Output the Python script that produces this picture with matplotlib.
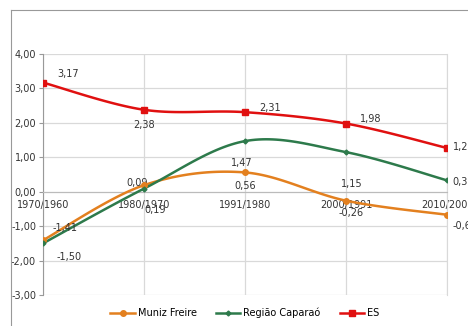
import numpy as np
import matplotlib
matplotlib.use("Agg")
import matplotlib.pyplot as plt
from matplotlib.lines import Line2D

periods = ["1970/1960", "1980/1970", "1991/1980", "2000/1991", "2010/2000"]
muniz_freire = [-1.41, 0.19, 0.56, -0.26, -0.67]
regiao_caparao = [-1.50, 0.09, 1.47, 1.15, 0.33]
es = [3.17, 2.38, 2.31, 1.98, 1.27]


def smooth(xs, ys, n=30):
    # Excel-like smoothed line (Catmull-Rom through the points)
    p = np.column_stack([xs, ys]).astype(float)
    p = np.vstack([p[0], p, p[-1]])
    out = []
    for i in range(1, len(p) - 2):
        p0, p1, p2, p3 = p[i - 1], p[i], p[i + 1], p[i + 2]
        c1 = p1 + (p2 - p0) / 6
        c2 = p2 - (p3 - p1) / 6
        t = np.linspace(0, 1, n)[:, None]
        seg = (1 - t) ** 3 * p1 + 3 * (1 - t) ** 2 * t * c1 + 3 * (1 - t) * t ** 2 * c2 + t ** 3 * p2
        out.append(seg)
    out = np.vstack(out)
    return out[:, 0], out[:, 1]


def fmt(v):
    return f"{v:.2f}".replace(".", ",")


fs = 7
fig = plt.figure(figsize=(4.68, 3.26), dpi=100)
ax = fig.add_axes([43 / 468, 1 - 295 / 326, 404 / 468, 241 / 326])

x = np.arange(len(periods))
orange = "#E3801F"
green = "#2D7A4B"
red = "#E01010"

for ys, col, mk, ms in [(muniz_freire, orange, "o", 4),
                        (regiao_caparao, green, "D", 2.5),
                        (es, red, "s", 4.5)]:
    sx, sy = smooth(x, ys)
    ax.plot(sx, sy, color=col, lw=1.8, zorder=3)
    ax.plot(x, ys, ls="none", marker=mk, ms=ms, color=col, zorder=4)

ax.spines["bottom"].set_position(("data", 0))
ax.spines["bottom"].set_color("#BBBBBB")
ax.spines["left"].set_color("#999999")
ax.spines["top"].set_visible(False)
ax.spines["right"].set_color("#D9D9D9")

ax.set_xlim(0, 4)
ax.set_ylim(-3, 4)
ax.set_yticks(np.arange(-3, 5, 1))
ax.set_yticklabels([fmt(v) for v in np.arange(-3, 5, 1)], fontsize=fs, color="#333333")
ax.set_xticks(x)
ax.set_xticklabels(periods, fontsize=fs, color="#333333")
ax.grid(True, color="#D9D9D9", lw=0.9)
ax.set_axisbelow(True)
ax.tick_params(axis="x", length=0, pad=6)
ax.tick_params(axis="y", length=3, color="#999999", pad=2)

# data labels (offsets in points)
labels = [
    (es, [(10, 6, "left"), (0, -11, "center"), (10, 3, "left"), (10, 3, "left"), (4, 1, "left")]),
    (regiao_caparao, [(10, -10, "left"), (-5, 4, "center"), (-2, -16, "center"), (4, -23, "center"), (4, -1, "left")]),
    (muniz_freire, [(7, 9, "left"), (8, -18, "center"), (0, -10, "center"), (4, -9, "center"), (4, -8, "left")]),
]
for ys, offs in labels:
    for xi, yv, (dx, dy, ha) in zip(x, ys, offs):
        ax.annotate(fmt(yv), (xi, yv), xytext=(dx, dy), textcoords="offset points",
                    ha=ha, va="center", fontsize=fs, color="#333333", annotation_clip=False)

handles = [
    Line2D([], [], color=orange, marker="o", ms=4, lw=1.8),
    Line2D([], [], color=green, marker="D", ms=2.5, lw=1.8),
    Line2D([], [], color=red, marker="s", ms=4.5, lw=1.8),
]
fig.legend(handles, ["Muniz Freire", "Região Caparaó", "ES"], loc="center",
           bbox_to_anchor=(245 / 468, 1 - 313 / 326), ncol=3, frameon=False,
           fontsize=fs, handlelength=2.5, columnspacing=2.0, handletextpad=0.3)

# outer chart border
fig.add_artist(Line2D([11 / 468, 11 / 468], [0, 1 - 10 / 326], color="#999999", lw=0.8))
fig.add_artist(Line2D([11 / 468, 1], [1 - 10 / 326, 1 - 10 / 326], color="#999999", lw=0.8))

fig.savefig("out.png", dpi=100)
